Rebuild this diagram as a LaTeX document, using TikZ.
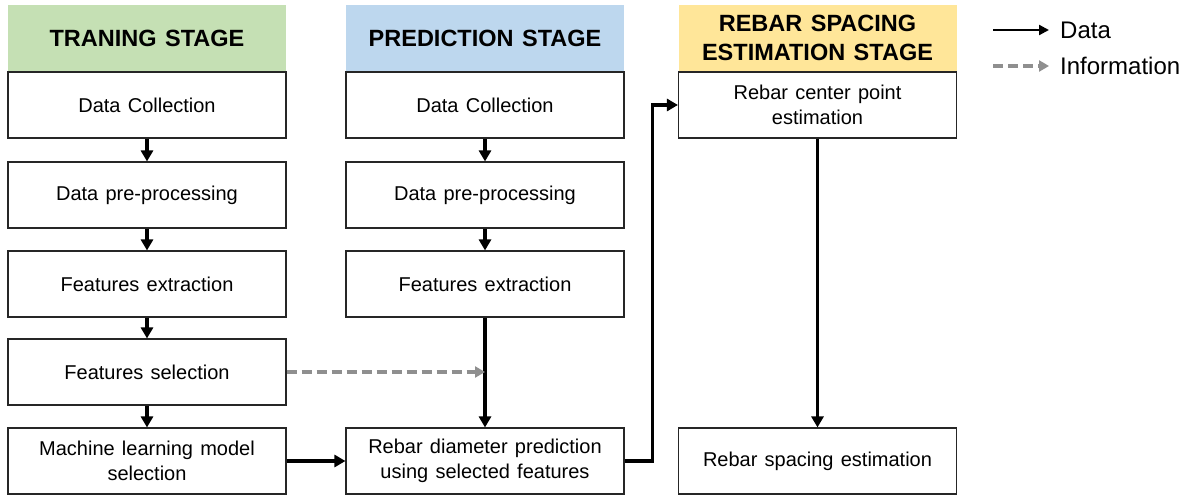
\documentclass[tikz,border=0pt]{standalone}
\usepackage{fontspec}
\setmainfont{Liberation Sans}[WordSpace=1.3]
\usetikzlibrary{arrows.meta}
\definecolor{hgreen}{HTML}{C5E0B4}
\definecolor{hblue}{HTML}{BDD7EE}
\definecolor{hyellow}{HTML}{FFE699}
\definecolor{infogray}{HTML}{8F8F8F}
\begin{document}
\begin{tikzpicture}[x=1pt,y=-1pt,
  box/.style={draw=black!85, line width=1.1pt, fill=white, minimum width=278pt, minimum height=66pt, inner sep=0pt, align=center, font=\fontsize{20}{25}\selectfont},
  head/.style={fill=#1, minimum width=278pt, minimum height=66pt, inner sep=0pt, align=center, font=\fontsize{23.5}{29.5}\selectfont\bfseries},
  data/.style={line width=3.3pt, -{Triangle[length=11pt,width=12pt]}},
  info/.style={line width=3.3pt, infogray, dash pattern=on 10pt off 5pt, -{Triangle[length=10pt,width=11pt]}},
  legtxt/.style={anchor=west, inner sep=0pt, font=\fontsize{24}{28}\selectfont},
]
\useasboundingbox (0,0) rectangle (1189,497);
% headers
\node[head=hgreen] (h1) at (147,38) {TRANING STAGE};
\node[head=hblue] (h2) at (485,38) {PREDICTION STAGE};
\node[head=hyellow] (h3) at (817.5,38) {REBAR SPACING\\ESTIMATION STAGE};
% column 1
\node[box] (a1) at (147,105) {Data Collection};
\node[box] (a2) at (147,195) {Data pre-processing};
\node[box] (a3) at (147,284) {Features extraction};
\node[box] (a4) at (147,372) {Features selection};
\node[box] (a5) at (147,461) {Machine learning model\\selection};
% column 2
\node[box] (b1) at (485,105) {Data Collection};
\node[box] (b2) at (485,195) {Data pre-processing};
\node[box] (b3) at (485,284) {Features extraction};
\node[box] (b5) at (485,461) {Rebar diameter prediction\\using selected features};
% column 3
\node[box] (c1) at (817.5,105) {Rebar center point\\estimation};
\node[box] (c5) at (817.5,461) {Rebar spacing estimation};
% connectors
\draw[data] (a1) -- (a2);
\draw[data] (a2) -- (a3);
\draw[data] (a3) -- (a4);
\draw[data] (a4) -- (a5);
\draw[data] (b1) -- (b2);
\draw[data] (b2) -- (b3);
\draw[data] (b3) -- (b5);
\coordinate (m) at (485,372);
\draw[info] (a4.east) -- (m);
\draw[data] (a5) -- (b5);
\draw[data] (b5.east) -- ++(28,0) |- (c1.west);
\draw[data] (c1) -- (c5);
% legend
\node[legtxt] (ld) at (1060,30) {Data};
\node[legtxt] (li) at (1060,66) {Information};
\coordinate (la) at (993,30);
\coordinate (lb) at (993,66);
\draw[line width=2.2pt, -{Triangle[length=10pt,width=10pt]}] (la) -- ([xshift=-11pt]ld.west);
\draw[info] (lb) -- ([xshift=-11pt]li.west);
\end{tikzpicture}
\end{document}
